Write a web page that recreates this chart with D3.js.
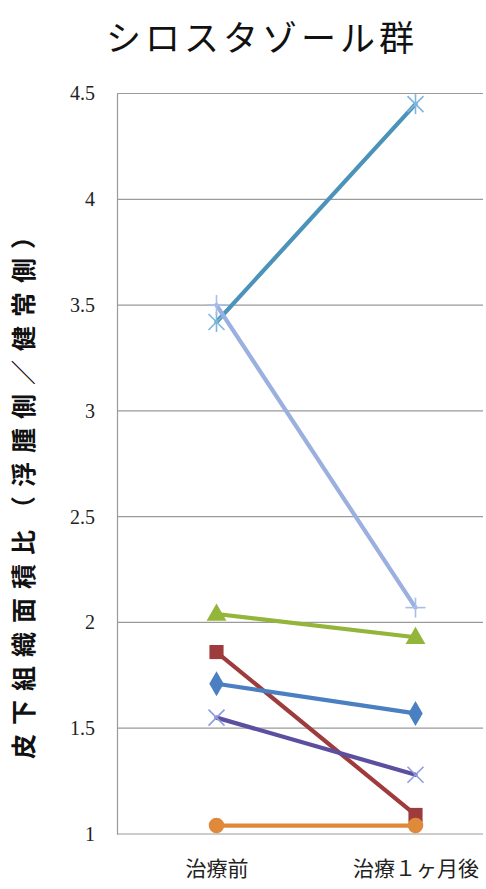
<!DOCTYPE html>
<html>
<head>
<meta charset="utf-8">
<script src="https://cdn.jsdelivr.net/npm/d3@7"></script>
<style>
  html, body { margin: 0; padding: 0; background: #ffffff; }
  svg { display: block; }
</style>
</head>
<body>
<div id="chart"></div>
<script>
// 治療前後の皮下組織面積比（シロスタゾール群）
const title = "シロスタゾール群";
const yLabel = "皮下組織面積比（浮腫側／健常側）";
const categories = ["治療前", "治療１ヶ月後"];
const yTicks = [1, 1.5, 2, 2.5, 3, 3.5, 4, 4.5];

// 各症例の値（治療前, 治療１ヶ月後）
const caseA = [3.42, 4.45];
const caseB = [3.50, 2.07];
const caseC = [2.04, 1.93];
const caseD = [1.86, 1.09];
const caseE = [1.71, 1.57];
const caseF = [1.55, 1.28];
const caseG = [1.04, 1.04];

const series = [
  { values: caseA, color: "#4b93b9", marker: "asterisk", mcolor: "#7fb6dc" },
  { values: caseB, color: "#9cb0e0", marker: "plus",     mcolor: "#a9bde8" },
  { values: caseC, color: "#93b53a", marker: "triangle", mcolor: "#93b53a" },
  { values: caseD, color: "#9d3b3d", marker: "square",   mcolor: "#9d3b3d" },
  { values: caseE, color: "#4a80c2", marker: "diamond",  mcolor: "#4a80c2" },
  { values: caseF, color: "#5d4fa0", marker: "cross",    mcolor: "#8f9be0" },
  { values: caseG, color: "#df8a3b", marker: "circle",   mcolor: "#df8a3b" }
];

const W = 486, H = 889;
const plot = { left: 117, right: 483, top: 93.5, bottom: 834 };

const svg = d3.select("#chart").append("svg")
  .attr("width", W).attr("height", H);

const x = d3.scalePoint().domain(categories).range([plot.left, 515]).padding(0.5);
const y = d3.scaleLinear().domain([1, 4.5]).range([plot.bottom, plot.top]);

// タイトル
svg.append("text")
  .attr("x", 262).attr("y", 51)
  .attr("text-anchor", "middle")
  .attr("font-family", "'Noto Sans CJK JP'")
  .attr("font-size", 35)
  .attr("letter-spacing", 4)
  .attr("fill", "#111")
  .text(title);

// 目盛線
svg.append("g").selectAll("line")
  .data(yTicks)
  .join("line")
  .attr("x1", plot.left).attr("x2", plot.right)
  .attr("y1", d => y(d)).attr("y2", d => y(d))
  .attr("stroke", "#9a9a9a").attr("stroke-width", 1.2);

// 縦軸
const yAxis = d3.axisLeft(y).tickValues(yTicks).tickSize(0).tickPadding(22)
  .tickFormat(d3.format("~g"));
const gy = svg.append("g").attr("transform", `translate(${plot.left},0)`).call(yAxis);
gy.attr("font-family", "'Liberation Serif', 'DejaVu Serif', serif");
gy.select(".domain").attr("stroke", "#9a9a9a").attr("stroke-width", 1.2);
gy.selectAll("text")
  .style("font-family", "'Liberation Serif', 'DejaVu Serif', serif")
  .attr("font-size", 20)
  .attr("fill", "#222");

// 横軸ラベル
const xAxis = d3.axisBottom(x).tickSize(0).tickPadding(27);
const gx = svg.append("g").attr("transform", `translate(0,${plot.bottom})`).call(xAxis);
gx.select(".domain").remove();
gx.selectAll("text")
  .style("font-family", "'Noto Sans CJK JP'")
  .attr("font-size", 21)
  .attr("fill", "#222");

// 縦軸タイトル
svg.append("text")
  .attr("transform", `translate(33,487) rotate(-90)`)
  .attr("text-anchor", "middle")
  .attr("font-family", "'Noto Sans CJK JP'")
  .attr("font-weight", 700)
  .attr("font-size", 25)
  .attr("letter-spacing", 9)
  .attr("fill", "#111")
  .text(yLabel);

// 折れ線
const line = d3.line()
  .x((d, i) => x(categories[i]))
  .y(d => y(d));

const g = svg.append("g");
series.forEach(s => {
  g.append("path")
    .datum(s.values)
    .attr("d", line)
    .attr("fill", "none")
    .attr("stroke", s.color)
    .attr("stroke-width", 4.2)
    .attr("stroke-linecap", "round");
});

// マーカー
const sym = {
  triangle: d3.symbolTriangle,
  square: d3.symbolSquare,
  diamond: d3.symbolDiamond,
  circle: d3.symbolCircle
};
series.forEach(s => {
  s.values.forEach((v, i) => {
    const cx = x(categories[i]), cy = y(v);
    const mg = g.append("g").attr("transform", `translate(${cx},${cy})`);
    const r = 8;
    if (sym[s.marker]) {
      const size = s.marker === "diamond" ? 180 : s.marker === "triangle" ? 170 : s.marker === "circle" ? 190 : 200;
      mg.append("path")
        .attr("d", d3.symbol().type(sym[s.marker]).size(size)())
        .attr("transform", s.marker === "triangle" ? "translate(0,1)" : null)
        .attr("fill", s.mcolor);
    } else {
      const segs = [];
      if (s.marker === "asterisk" || s.marker === "cross") {
        segs.push([-r, -r, r, r], [-r, r, r, -r]);
      }
      if (s.marker === "asterisk") segs.push([0, -r - 2, 0, r + 2]);
      if (s.marker === "plus") segs.push([-r - 2, 0, r + 2, 0], [0, -r - 2, 0, r + 2]);
      mg.selectAll("line").data(segs).join("line")
        .attr("x1", d => d[0]).attr("y1", d => d[1])
        .attr("x2", d => d[2]).attr("y2", d => d[3])
        .attr("stroke", s.mcolor)
        .attr("stroke-width", 1.6);
    }
  });
});
</script>
</body>
</html>
